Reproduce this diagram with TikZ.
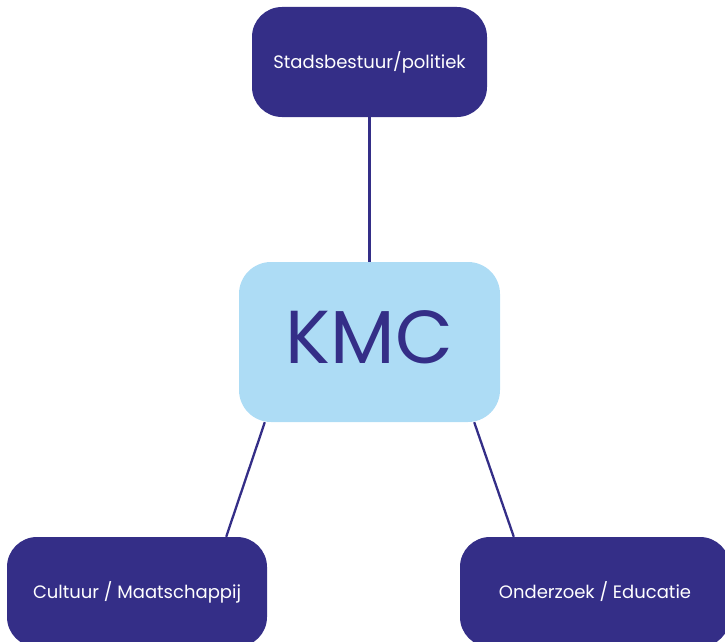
\documentclass[tikz,border=0pt]{standalone}
\usepackage{fontspec}
\setmainfont{Poppins}
\usetikzlibrary{calc}
\definecolor{kmcdark}{RGB}{52,46,135}
\definecolor{kmclight}{RGB}{173,220,245}

\begin{document}
\begin{tikzpicture}[x=1pt,y=-1pt,
    partner/.style={fill=kmcdark,text=white,rounded corners=30pt,minimum height=110pt,
                    inner sep=0pt,font=\fontsize{18}{21}\selectfont},
    kmcbox/.style={fill=kmclight,text=kmcdark,rounded corners=32pt,minimum width=261pt,
                   minimum height=160pt,inner sep=0pt,text depth=10pt,
                   font=\fontsize{75}{80}\selectfont},
    link/.style={draw=kmcdark,line width=2.3pt}]
  \useasboundingbox (0,0) rectangle (725,642);
  \clip (0,0) rectangle (725,642);
  \node[kmcbox] (kmc) at (369.5,342) {KMC};
  \node[partner,minimum width=235pt] (stad) at (369.5,62) {Stadsbestuur/politiek};
  \node[partner,minimum width=260pt] (cult) at (137,592) {Cultuur / Maatschappij};
  \node[partner,minimum width=270pt] (onder) at (595,592) {Onderzoek / Educatie};

  \draw[link] (stad.south) -- (kmc.north);
  \draw[link] ($(kmc.south west)+(26,0)$) -- ($(cult.north east)+(-41,0)$);
  \draw[link] ($(kmc.south east)+(-26,0)$) -- ($(onder.north west)+(54,0)$);
\end{tikzpicture}
\end{document}
